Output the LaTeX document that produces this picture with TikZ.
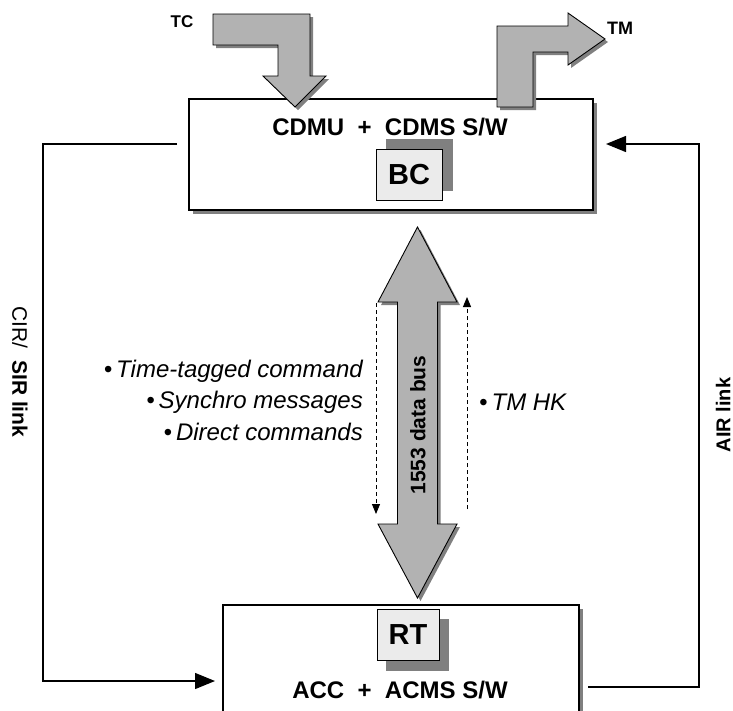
\documentclass[tikz,border=0pt]{standalone}
\usepackage{fontspec}
\setmainfont{Liberation Sans}
\usetikzlibrary{arrows.meta,calc,shadows}
\begin{document}
\begin{tikzpicture}[x=1pt,y=-1pt,
  box/.style={draw=black, line width=1.2pt, fill=white, inner sep=0pt},
  boxshadow/.style={drop shadow={shadow xshift=4pt, shadow yshift=-4pt, fill=black!50, opacity=1}},
  tagbox/.style={draw=black, line width=1pt, fill=black!8, inner sep=0pt, font=\bfseries\fontsize{29}{29}\selectfont},
  bigarrow/.style={draw=black, line width=0.9pt, fill=black!30, line join=miter,
     drop shadow={shadow xshift=3pt, shadow yshift=-3pt, fill=black!50, opacity=1}},
  link/.style={line width=1.3pt, -{Triangle[length=20pt,width=16pt]}},
  dasharrow/.style={line width=0.9pt, dash pattern=on 4pt off 3pt, -{Triangle[length=10pt,width=8pt]}},
  lbl/.style={inner sep=0pt},
  itl/.style={inner sep=0pt, font=\itshape\fontsize{24}{24}\selectfont},
]
\clip (0,0) rectangle (733,710);

% main boxes
\node[box, boxshadow, minimum width=404pt, minimum height=111pt] (cdmu) at (391,154.5) {};
\node[box, boxshadow, minimum width=356pt, minimum height=120pt] (acc) at (401,665) {};

% BC tag with shadow
\node[draw=none, fill=black!50, minimum width=67pt, minimum height=52pt, inner sep=0pt] (bcsh) at (419.5,165) {};
\node[tagbox, minimum width=66pt, minimum height=51pt] (bc) at (409,174.5) {BC};

% RT tag with shadow
\node[draw=none, fill=black!50, minimum width=63pt, minimum height=52pt, inner sep=0pt] (rtsh) at (417.5,645) {};
\node[tagbox, minimum width=62pt, minimum height=51pt] (rt) at (408,634.5) {RT};

% box texts
\node[lbl, font=\bfseries\fontsize{24}{24}\selectfont] (cdmutxt) at (390,127) {CDMU\ \ +\ \ CDMS S/W};
\node[lbl, font=\bfseries\fontsize{24}{24}\selectfont] (acctxt) at (400,690) {ACC\ \ +\ \ ACMS S/W};

% TC arrow
\filldraw[bigarrow] (213,14) -- (310,14) -- (310,76) -- (326,76) -- (295,107) -- (263,76) -- (278,76) -- (278,45) -- (213,45) -- cycle;
\node[lbl, font=\bfseries\fontsize{17}{17}\selectfont] (tc) at (182,22) {TC};

% TM arrow
\filldraw[bigarrow] (497,107) -- (497,26) -- (568,26) -- (568,13) -- (605,39) -- (568,65) -- (568,52) -- (533,52) -- (533,107) -- cycle;
\node[lbl, font=\bfseries\fontsize{18}{18}\selectfont] (tm) at (620,28) {TM};

% 1553 data bus double arrow
\filldraw[bigarrow] (417.5,227) -- (457,302) -- (437.5,302) -- (437.5,524) -- (457,524) -- (417.5,598)
   -- (378,524) -- (397.5,524) -- (397.5,302) -- (378,302) -- cycle;
\node[lbl, rotate=90, font=\bfseries\fontsize{21}{21}\selectfont] (bus) at (418,425) {1553 data bus};

% dashed flow arrows
\coordinate (dlA) at (376,303);
\coordinate (dlB) at (376,514);
\coordinate (drA) at (467,509);
\coordinate (drB) at (467,297);
\draw[dasharrow] (dlA) -- (dlB);
\draw[dasharrow] (drA) -- (drB);

% flow labels
\node[itl, anchor=east] (l1) at (363,371) {•\,Time-tagged command};
\node[itl, anchor=east] (l2) at (363,402) {•\,Synchro messages};
\node[itl, anchor=east] (l3) at (363,432) {•\,Direct commands};
\node[itl, anchor=west] (r1) at (479,402) {•\,TM HK};

% CIR/SIR link
\coordinate (cirA) at (177,144);
\coordinate (cirB) at (43,681);
\coordinate (cirC) at (215,681);
\draw[link] (cirA) -| (cirB) -- (cirC);
\node[lbl, rotate=-90, font=\fontsize{21}{21}\selectfont] (cir) at (20,372) {CIR/\ \ \textbf{SIR link}};

% AIR link
\coordinate (airA) at (588,687);
\coordinate (airB) at (699,144);
\coordinate (airC) at (606,144);
\draw[link] (airA) -| (airB) -- (airC);
\node[lbl, rotate=90, font=\bfseries\fontsize{20}{20}\selectfont] (air) at (723,415) {AIR link};
\end{tikzpicture}
\end{document}
